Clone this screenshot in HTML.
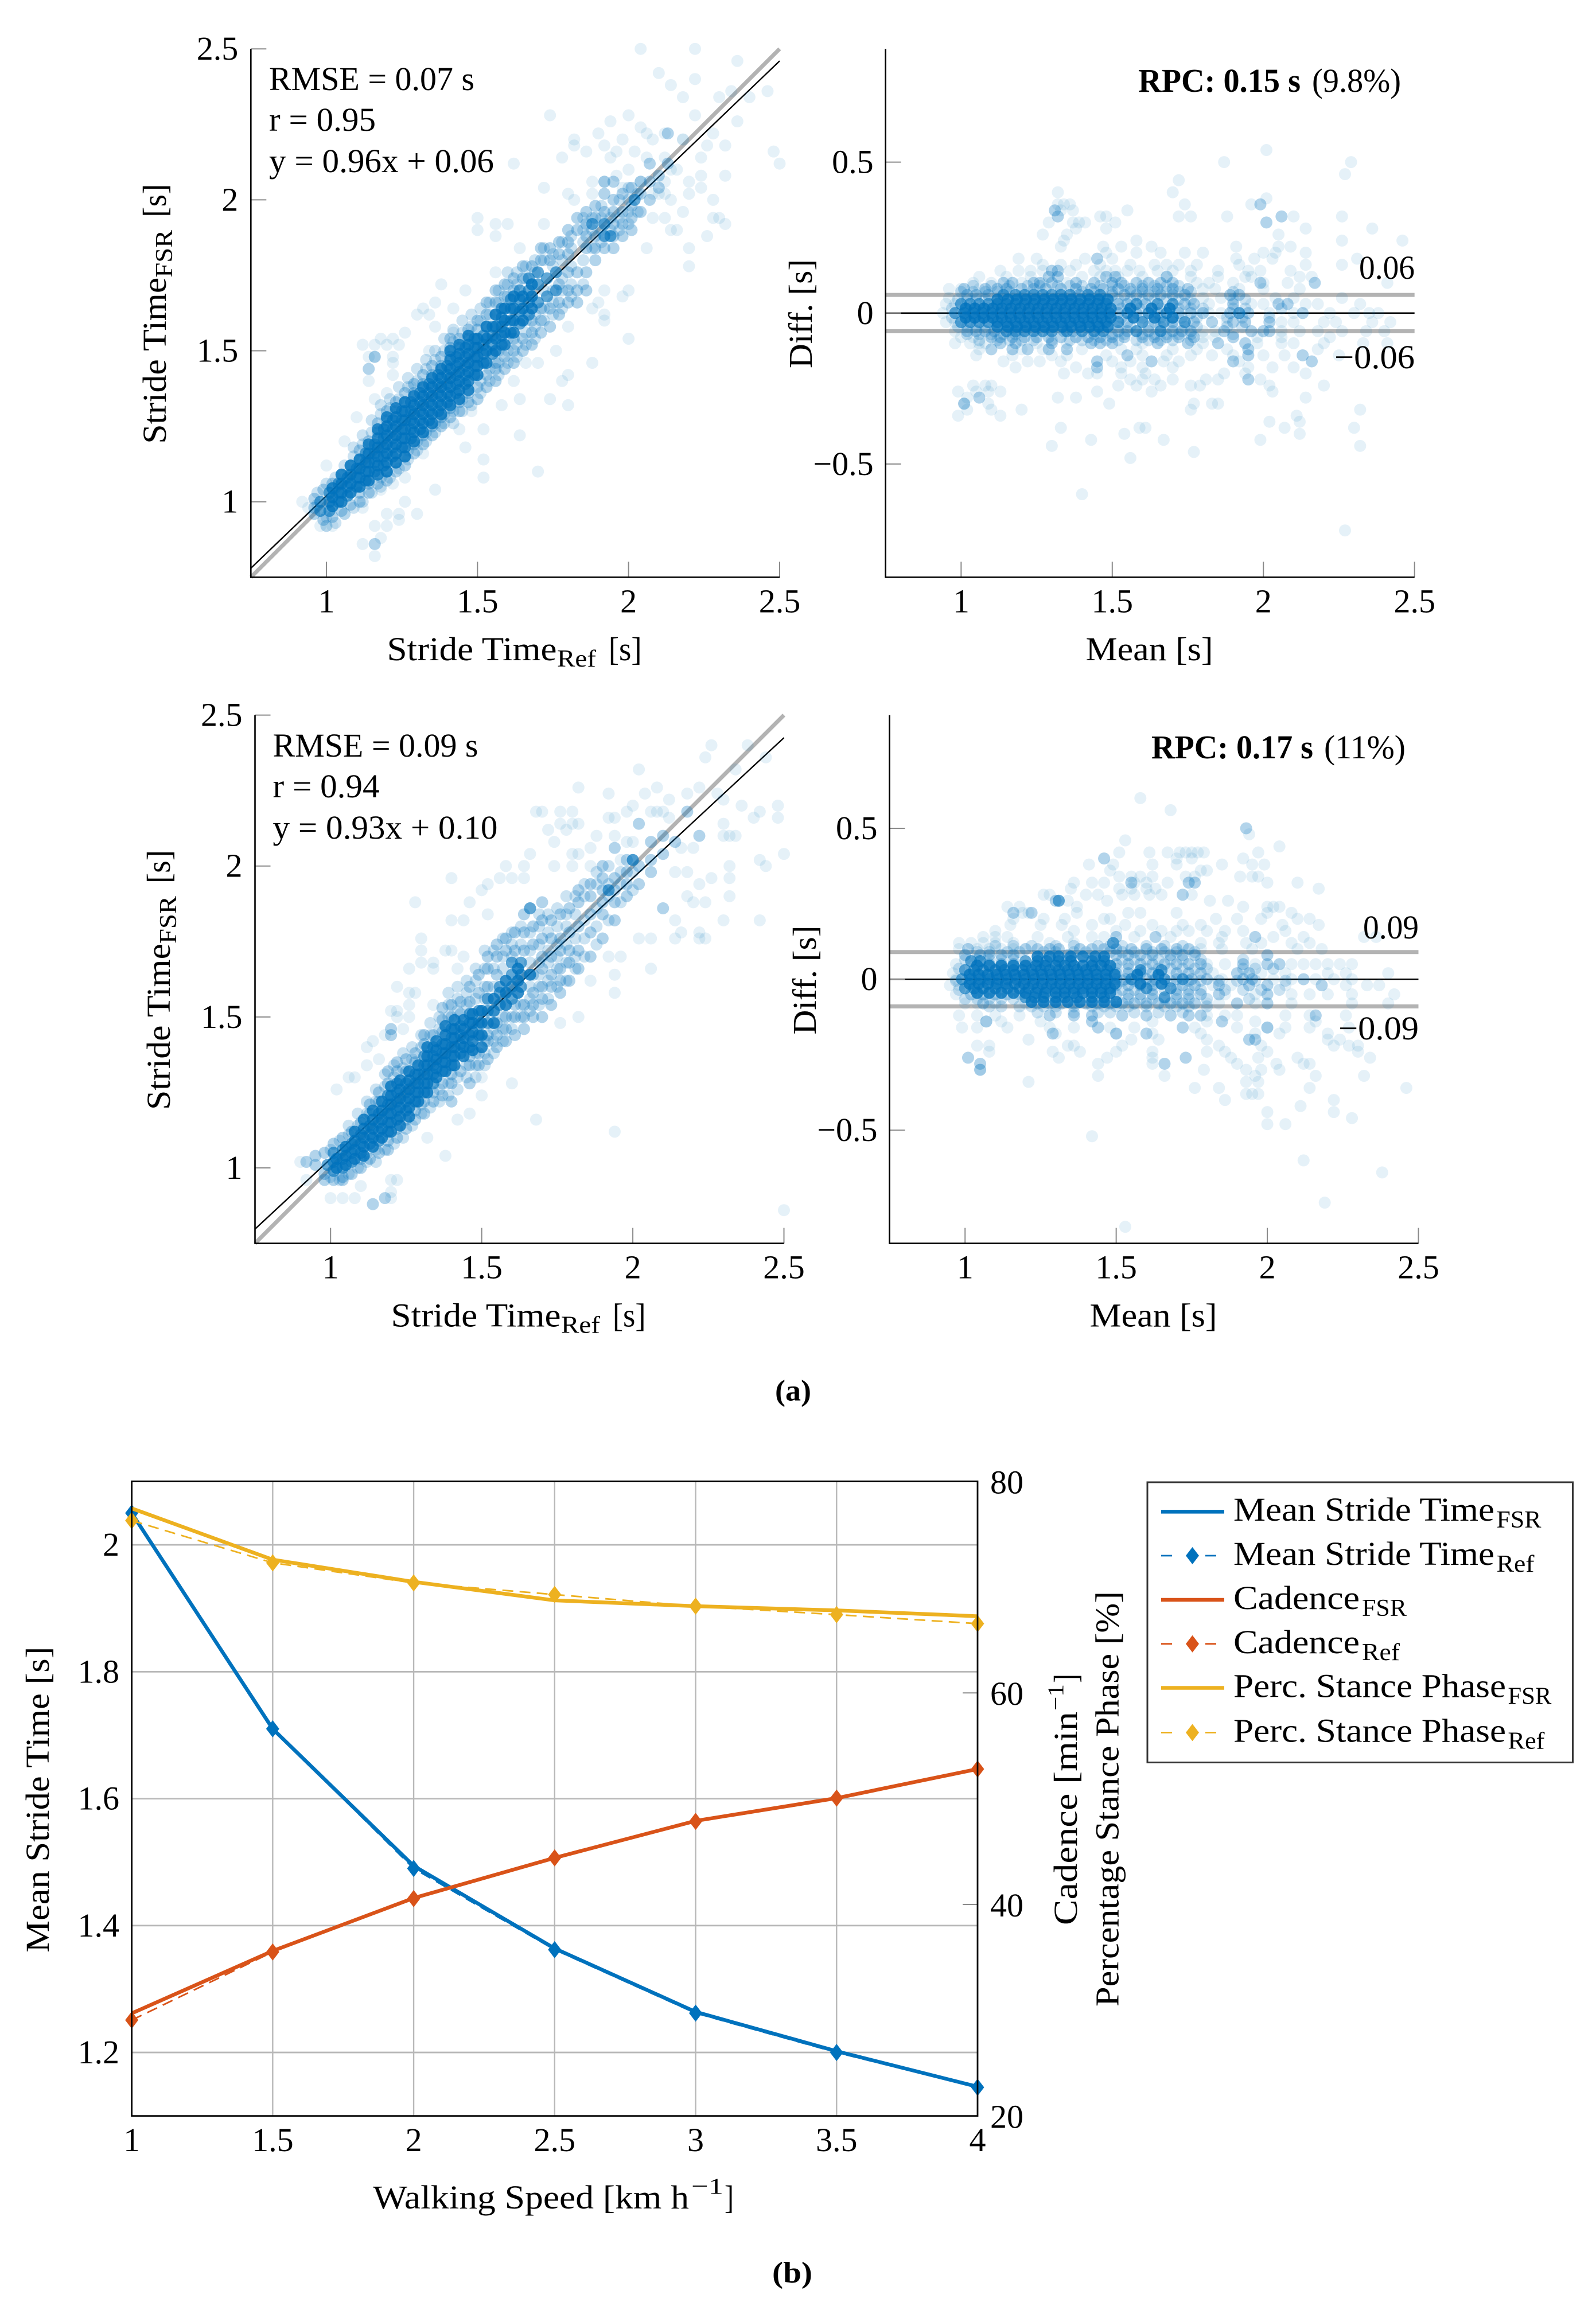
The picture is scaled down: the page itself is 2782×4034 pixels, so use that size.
<!DOCTYPE html>
<html lang="en">
<head>
<meta charset="utf-8">
<title>Stride time agreement and gait parameters</title>
<style>
html,body{margin:0;padding:0;background:#fff;}
svg{display:block;}
text{font-family:"Liberation Serif",serif;fill:#000;font-size:58px;}
.sub{font-size:42px;}
.sup{font-size:39px;}
.b{font-weight:bold;}
</style>
</head>
<body>
<svg id="figure" width="2782" height="4034" viewBox="0 0 2782 4034">
  <rect x="0" y="0" width="2782" height="4034" fill="#fff"/>

  <g id="panelA"></g>
  <g id="panelB"></g>
  <g id="panelC"></g>
  <g id="panelD"></g>
  <g id="panelE"></g>

  <!-- Panel A static text -->
  <g>
    <text x="469" y="157" textLength="358" lengthAdjust="spacingAndGlyphs">RMSE = 0.07 s</text>
    <text x="469" y="228" textLength="186" lengthAdjust="spacingAndGlyphs">r = 0.95</text>
    <text x="469" y="300" textLength="392" lengthAdjust="spacingAndGlyphs">y = 0.96x + 0.06</text>
  </g>
  <g>
    <text x="674.5" y="1151" textLength="296" lengthAdjust="spacingAndGlyphs">Stride Time</text>
    <text class="sub" x="971" y="1162" textLength="68" lengthAdjust="spacingAndGlyphs">Ref</text>
    <text x="1060.7" y="1151" textLength="58" lengthAdjust="spacingAndGlyphs">[s]</text>
  </g>
  <g transform="translate(289,773.7) rotate(-90)">
    <text x="0" y="0" textLength="290" lengthAdjust="spacingAndGlyphs">Stride Time</text>
    <text class="sub" x="290" y="11" textLength="83" lengthAdjust="spacingAndGlyphs">FSR</text>
    <text x="395" y="0" textLength="58" lengthAdjust="spacingAndGlyphs">[s]</text>
  </g>

  <!-- Panel B static text -->
  <g>
    <text class="b" x="1984" y="160" textLength="283" lengthAdjust="spacingAndGlyphs">RPC: 0.15 s</text>
    <text x="2287" y="160" textLength="155" lengthAdjust="spacingAndGlyphs">(9.8%)</text>
  </g>
  <text x="2369" y="486" textLength="97" lengthAdjust="spacingAndGlyphs">0.06</text>
  <text x="2326" y="642" textLength="140" lengthAdjust="spacingAndGlyphs">−0.06</text>
  <text x="1892.5" y="1151" textLength="222" lengthAdjust="spacingAndGlyphs">Mean [s]</text>
  <text transform="translate(1415,642) rotate(-90)" textLength="190" lengthAdjust="spacingAndGlyphs">Diff. [s]</text>

  <!-- Panel C static text -->
  <g>
    <text x="475.5" y="1319" textLength="358" lengthAdjust="spacingAndGlyphs">RMSE = 0.09 s</text>
    <text x="475.5" y="1390" textLength="186" lengthAdjust="spacingAndGlyphs">r = 0.94</text>
    <text x="475.5" y="1462" textLength="392" lengthAdjust="spacingAndGlyphs">y = 0.93x + 0.10</text>
  </g>
  <g>
    <text x="681.5" y="2312.5" textLength="296" lengthAdjust="spacingAndGlyphs">Stride Time</text>
    <text class="sub" x="978" y="2323.5" textLength="68" lengthAdjust="spacingAndGlyphs">Ref</text>
    <text x="1067.7" y="2312.5" textLength="58" lengthAdjust="spacingAndGlyphs">[s]</text>
  </g>
  <g transform="translate(296,1935) rotate(-90)">
    <text x="0" y="0" textLength="290" lengthAdjust="spacingAndGlyphs">Stride Time</text>
    <text class="sub" x="290" y="11" textLength="83" lengthAdjust="spacingAndGlyphs">FSR</text>
    <text x="395" y="0" textLength="58" lengthAdjust="spacingAndGlyphs">[s]</text>
  </g>

  <!-- Panel D static text -->
  <g>
    <text class="b" x="2007" y="1322" textLength="282" lengthAdjust="spacingAndGlyphs">RPC: 0.17 s</text>
    <text x="2308" y="1322" textLength="142" lengthAdjust="spacingAndGlyphs">(11%)</text>
  </g>
  <text x="2376" y="1636" textLength="97" lengthAdjust="spacingAndGlyphs">0.09</text>
  <text x="2333" y="1812" textLength="140" lengthAdjust="spacingAndGlyphs">−0.09</text>
  <text x="1899.5" y="2312.5" textLength="222" lengthAdjust="spacingAndGlyphs">Mean [s]</text>
  <text transform="translate(1422,1803.5) rotate(-90)" textLength="190" lengthAdjust="spacingAndGlyphs">Diff. [s]</text>

  <text class="b" x="1351" y="2441.5" textLength="63" lengthAdjust="spacingAndGlyphs" style="font-size:52px">(a)</text>

  <!-- Panel E static text -->
  <text transform="translate(85,3403.6) rotate(-90)" textLength="533" lengthAdjust="spacingAndGlyphs">Mean Stride Time [s]</text>
  <g>
    <text x="650" y="3850" textLength="551" lengthAdjust="spacingAndGlyphs">Walking Speed [km h</text>
    <text class="sup" x="1205" y="3824" textLength="56" lengthAdjust="spacingAndGlyphs">−1</text>
    <text x="1263" y="3850" textLength="16" lengthAdjust="spacingAndGlyphs">]</text>
  </g>
  <g transform="translate(1877,3356) rotate(-90)">
    <text x="0" y="0" textLength="372" lengthAdjust="spacingAndGlyphs">Cadence [min</text>
    <text class="sup" x="374" y="-24" textLength="46" lengthAdjust="spacingAndGlyphs">−1</text>
    <text x="422" y="0" textLength="16" lengthAdjust="spacingAndGlyphs">]</text>
  </g>
  <text transform="translate(1949.5,3498) rotate(-90)" textLength="724" lengthAdjust="spacingAndGlyphs">Percentage Stance Phase [%]</text>
  <text class="b" x="1346" y="3979" textLength="70" lengthAdjust="spacingAndGlyphs" style="font-size:52px">(b)</text>

  <!-- Legend -->
  <g>
    <rect x="2000" y="2584" width="741.5" height="488.5" fill="#fff" stroke="#333" stroke-width="3"/>
    <g>
      <line x1="2024" x2="2134" y1="2635.4" y2="2635.4" stroke="#0072BD" stroke-width="6.5"/>
      <text x="2150" y="2651" textLength="455" lengthAdjust="spacingAndGlyphs">Mean Stride Time</text>
      <text class="sub" x="2608.5" y="2663" textLength="78" lengthAdjust="spacingAndGlyphs">FSR</text>
    </g>
    <g>
      <line x1="2024" x2="2043" y1="2712" y2="2712" stroke="#0072BD" stroke-width="2.8"/>
      <line x1="2101" x2="2120" y1="2712" y2="2712" stroke="#0072BD" stroke-width="2.8"/>
      <polygon points="2078.5,2697 2090,2712 2078.5,2727 2067,2712" fill="#0072BD"/>
      <text x="2150" y="2728" textLength="455" lengthAdjust="spacingAndGlyphs">Mean Stride Time</text>
      <text class="sub" x="2608.5" y="2740" textLength="66" lengthAdjust="spacingAndGlyphs">Ref</text>
    </g>
    <g>
      <line x1="2024" x2="2134" y1="2789" y2="2789" stroke="#D95319" stroke-width="6.5"/>
      <text x="2150" y="2805" textLength="220" lengthAdjust="spacingAndGlyphs">Cadence</text>
      <text class="sub" x="2374" y="2817" textLength="78" lengthAdjust="spacingAndGlyphs">FSR</text>
    </g>
    <g>
      <line x1="2024" x2="2043" y1="2865.7" y2="2865.7" stroke="#D95319" stroke-width="2.8"/>
      <line x1="2101" x2="2120" y1="2865.7" y2="2865.7" stroke="#D95319" stroke-width="2.8"/>
      <polygon points="2078.5,2850.7 2090,2865.7 2078.5,2880.7 2067,2865.7" fill="#D95319"/>
      <text x="2150" y="2882" textLength="220" lengthAdjust="spacingAndGlyphs">Cadence</text>
      <text class="sub" x="2374" y="2894" textLength="66" lengthAdjust="spacingAndGlyphs">Ref</text>
    </g>
    <g>
      <line x1="2024" x2="2134" y1="2942.5" y2="2942.5" stroke="#EDB120" stroke-width="6.5"/>
      <text x="2150" y="2958.5" textLength="475" lengthAdjust="spacingAndGlyphs">Perc. Stance Phase</text>
      <text class="sub" x="2628.4" y="2970.5" textLength="76" lengthAdjust="spacingAndGlyphs">FSR</text>
    </g>
    <g>
      <line x1="2024" x2="2043" y1="3020.4" y2="3020.4" stroke="#EDB120" stroke-width="2.8"/>
      <line x1="2101" x2="2120" y1="3020.4" y2="3020.4" stroke="#EDB120" stroke-width="2.8"/>
      <polygon points="2078.5,3005.4 2090,3020.4 2078.5,3035.4 2067,3020.4" fill="#EDB120"/>
      <text x="2150" y="3036.5" textLength="475" lengthAdjust="spacingAndGlyphs">Perc. Stance Phase</text>
      <text class="sub" x="2628.4" y="3048.5" textLength="64" lengthAdjust="spacingAndGlyphs">Ref</text>
    </g>
  </g>
</svg>

<script>
/* ---------- Chart data ---------- */
const scatterTicks=[1,1.5,2,2.5];
const scatterTickLabels=['1','1.5','2','2.5'];
const diffTicks=[-0.5,0,0.5];
const diffTickLabels=['−0.5','0','0.5'];
const fitTop=[0.96,0.06];
const fitBottom=[0.93,0.10];
const identityEnds=[0.75,2.5];
const limitsTop=[0.06,-0.06];
const limitsBottom=[0.09,-0.09];

/* scatter points grouped as [x,[y,...]] by overlap density */
const aCore=[[1.02,[.985,1.015,1.045]],[1.05,[1,1.03,1.06,1.09]],[1.08,[1.03,1.06,1.09,1.12]],[1.11,[1.05,1.08,1.11,1.14]],[1.14,[1.07,1.1,1.13,1.16,1.19]],[1.17,[1.09,1.12,1.15,1.18,1.21,1.24]],[1.2,[1.1,1.13,1.16,1.19,1.22,1.25,1.28]],[1.23,[1.13,1.16,1.19,1.22,1.25,1.28,1.31]],[1.26,[1.15,1.18,1.21,1.24,1.27,1.3,1.33]],[1.29,[1.2,1.23,1.26,1.29,1.32,1.35]],[1.32,[1.23,1.26,1.29,1.32,1.35,1.38]],[1.35,[1.26,1.29,1.32,1.35,1.38,1.41]],[1.38,[1.29,1.32,1.35,1.38,1.41,1.44]],[1.41,[1.32,1.35,1.38,1.41,1.44,1.47,1.5]],[1.44,[1.34,1.37,1.4,1.43,1.46,1.49,1.52]],[1.47,[1.37,1.4,1.43,1.46,1.49,1.52,1.55]],[1.5,[1.42,1.45,1.48,1.51,1.54]],[1.53,[1.46,1.5,1.54,1.58]],[1.56,[1.5,1.54,1.58,1.62]],[1.59,[1.52,1.56,1.6,1.64]],[1.62,[1.56,1.6,1.64,1.68]],[1.65,[1.6,1.64,1.68]],[1.68,[1.64,1.68,1.72]]];
const aDark=[[.98,[.97,1]],[1.01,[.97,1,1.03]],[1.04,[1,1.03,1.06]],[1.07,[1.02,1.05,1.08]],[1.1,[1.05,1.08,1.11]],[1.13,[1.07,1.1,1.13,1.16]],[1.16,[1.1,1.13,1.16,1.19]],[1.19,[1.12,1.15,1.18,1.21,1.24]],[1.22,[1.15,1.18,1.21,1.24,1.27]],[1.25,[1.18,1.21,1.24,1.27,1.3]],[1.28,[1.21,1.24,1.27,1.3,1.33]],[1.31,[1.24,1.27,1.3,1.33,1.36]],[1.34,[1.27,1.3,1.33,1.36,1.39]],[1.37,[1.3,1.33,1.36,1.39,1.42]],[1.4,[1.33,1.36,1.39,1.42,1.45]],[1.43,[1.36,1.39,1.42,1.45,1.48]],[1.46,[1.39,1.42,1.45,1.48,1.51]],[1.49,[1.42,1.45,1.48,1.51,1.54]],[1.52,[1.46,1.49,1.52,1.55]],[1.55,[1.49,1.52,1.55,1.58]],[1.58,[1.52,1.55,1.58,1.61,1.64]],[1.61,[1.56,1.6,1.64,1.67]],[1.64,[1.59,1.63,1.67,1.7]],[1.67,[1.62,1.66,1.7,1.74]],[1.7,[1.66,1.72,1.76]],[1.73,[1.68,1.74]],[1.76,[1.7,1.76]],[1.88,[1.92]],[1.92,[1.92,1.88]],[1.94,[1.88]],[2.02,[2]]];
const aMid=[[.96,[.96,.98,1.01]],[.99,[.94,1.04]],[1.02,[.95,1.06]],[1.05,[.97,1.09]],[1.08,[.99,1.12]],[1.11,[1,1.03,1.14,1.17]],[1.14,[1.03,1.06,1.2]],[1.17,[1.06,1.23,1.26]],[1.2,[1.07,1.1,1.27,1.3]],[1.23,[1.1,1.13,1.3,1.33]],[1.26,[1.12,1.15,1.33,1.36]],[1.29,[1.16,1.19,1.36,1.39]],[1.32,[1.19,1.22,1.39,1.42]],[1.35,[1.22,1.25,1.42,1.45]],[1.38,[1.25,1.28,1.45,1.48]],[1.41,[1.28,1.31,1.48,1.51,1.54]],[1.44,[1.3,1.33,1.51,1.54]],[1.47,[1.33,1.36,1.54,1.57]],[1.5,[1.34,1.38,1.57,1.6]],[1.53,[1.38,1.42,1.58,1.62,1.66]],[1.56,[1.4,1.44,1.46,1.62,1.66,1.7]],[1.59,[1.44,1.48,1.68,1.72]],[1.62,[1.46,1.5,1.54,1.7,1.74]],[1.65,[1.5,1.54,1.74,1.78]],[1.68,[1.52,1.56,1.6,1.78]],[1.71,[1.56,1.6,1.64,1.8,1.84]],[1.74,[1.58,1.64,1.8,1.84]],[1.77,[1.62,1.66,1.72,1.82,1.86]],[1.8,[1.66,1.7,1.76,1.82,1.86,1.9]],[1.83,[1.66,1.7,1.76,1.9,1.94]],[1.86,[1.7,1.76,1.84,1.88,1.92,1.96]],[1.89,[1.8,1.84,1.88,1.94,1.98]],[1.92,[1.84,1.96,2.02,2.06]],[1.95,[1.84,1.88,1.92,1.96,2,2.06]],[1.98,[1.88,1.92,1.96,2.02]],[2.01,[1.9,1.94,1.98,2.04]],[2.04,[1.96,2.02,2.06]],[2.07,[2,2.06,2.12]],[2.1,[2.04,2.08]],[2.13,[2.12,2.22]],[1.16,[1.48]],[1.14,[1.44]],[1.16,[.86]]];
const aMidExtra=[[.97,[.99,1.03]],[1,[.92,.95,1.06]],[1.03,[.93,1.08]],[1.06,[.96,1.12]],[1.09,[.98,1.15,1.18]],[1.12,[1,1.19,1.22]],[1.15,[1.03,1.23,1.27]],[1.18,[1.05,1.08,1.29,1.32]],[1.21,[1.08,1.31,1.34]],[1.24,[1.11,1.34,1.38]],[1.27,[1.14,1.17,1.38,1.41]],[1.3,[1.17,1.2,1.4,1.44]],[1.33,[1.2,1.23,1.44,1.47]],[1.36,[1.23,1.26,1.47,1.5]],[1.39,[1.26,1.29,1.5,1.54]],[1.42,[1.26,1.3,1.53,1.57]],[1.45,[1.3,1.34,1.56,1.6]],[1.48,[1.32,1.58,1.62]],[1.51,[1.36,1.4,1.6,1.64]],[1.54,[1.4,1.44,1.62,1.66]],[1.57,[1.42,1.46,1.5,1.66,1.7]],[1.6,[1.46,1.5,1.54,1.68,1.72,1.76]],[1.63,[1.48,1.52,1.72,1.76]],[1.66,[1.52,1.56,1.6,1.74,1.78]],[1.69,[1.54,1.58,1.62,1.76,1.8]],[1.72,[1.6,1.64,1.7,1.8,1.84]],[1.75,[1.62,1.66,1.7,1.78,1.82]],[1.78,[1.64,1.7,1.74,1.8,1.86]],[1.81,[1.68,1.72,1.78,1.84,1.88]],[1.85,[1.72,1.8,1.86,1.9,1.94]],[1.88,[1.84,1.9,1.94]],[1.91,[1.86,1.9,1.94,1.98]],[1.94,[1.9,1.94]],[1.97,[1.9,1.94,2]],[2,[1.92,1.96,2,2.04]],[2.03,[1.96,2.02]]];
const aLight=[[2.04,[2.5,2.24,2.06]],[2.22,[2.5,2.4,2.28]],[2.36,[2.46,2.26]],[2.1,[2.42,2.02]],[2.14,[2.38,2.1,2,1.9]],[2.18,[2.34,2.2,1.96]],[2.3,[2.34,1.94]],[2.34,[2.36]],[2.4,[2.34]],[2.46,[2.36]],[1.74,[2.28,1.34]],[1.94,[2.26,2.14]],[2,[2.28,2.1,1.7,1.54]],[1.9,[2.22,1.66]],[2.12,[2.22,2.14,2.06,2.02,1.94]],[2.06,[2.22,2.14,1.84]],[1.82,[2.2,2.18,2]],[1.98,[2.2,2.04,1.68]],[2.08,[2.2,2.02,1.94]],[2.18,[2.2]],[2.28,[2.22,2,1.94]],[1.86,[2.16]],[1.92,[2.18,2.06,1.7,1.62,1.6]],[1.96,[2.16,2.08]],[2.02,[2.16]],[2.26,[2.18,1.88]],[2.32,[2.18,2.08,1.92]],[2.48,[2.16]],[2.5,[2.12]],[1.62,[2.12,1.4]],[1.78,[2.14,1.4]],[2.24,[2.14,2.08,2.04]],[2.16,[2.1,1.9]],[1.72,[2.04,1.92]],[1.88,[2.06,2.02,1.64,1.46]],[2.2,[2.06,2.02,1.84,1.78]],[1.8,[2.02,1.58,1.42,1.32]],[1.5,[1.94,1.9]],[1.56,[1.92,1.88,1.76]],[1.6,[1.92]],[1.64,[1.84,1.34,1.22]],[1.38,[1.72,1.26]],[1.32,[1.64,1.16]],[1.3,[1.62,.96]],[1.34,[1.62,1.5]],[1.36,[1.66,1.58,1.04]],[1.42,[1.64,1.56]],[1.46,[1.7,1.18]],[1.58,[1.32]],[1.52,[1.24,1.14,1.08]],[1.7,[1.1,1.46]],[1.66,[1.46]],[1.76,[1.5]],[1.12,[1.52,.98,.86]],[1.16,[1.52,1.48,1.34,.92,.82]],[1.18,[1.54,1.04,.88]],[1.2,[1.52,1.36,.96,.92]],[1.22,[1.54,1.48,1.46,1.42,1.06]],[1.24,[1.52,.96,.94]],[1.26,[1.56,1,1.08]],[1.14,[1.48,1.4]],[1.28,[1.38]],[1.44,[1.24]],[1.48,[1.3]],[1,[1.12,.92]],[.92,[1]],[.94,[.98]],[.98,[.92]],[1.02,[.92]],[1.06,[.96,1.2]],[1.1,[1.28]]];

/* difference points grouped as [y,[x,...]] by overlap density */
const bCore=[[.045,[1.12,1.155,1.185,1.215,1.245,1.275,1.305,1.335,1.365,1.395,1.425,1.455,1.485]],[.015,[1.015,1.045,1.075,1.105,1.135,1.165,1.195,1.225,1.255,1.285,1.315,1.345,1.375,1.405,1.435,1.465,1.495,1.56,1.63,1.69]],[-.015,[1.015,1.045,1.075,1.105,1.135,1.165,1.195,1.225,1.255,1.285,1.315,1.345,1.375,1.405,1.435,1.465,1.495,1.57,1.64,1.7]],[-.045,[1.12,1.155,1.185,1.215,1.245,1.275,1.305,1.335,1.365,1.395,1.425,1.455,1.485]]];
const bDark=[[.06,[1.14,1.18,1.21,1.24,1.27,1.3,1.33,1.36,1.42,1.46]],[.03,[1,1.03,1.06,1.09,1.12,1.15,1.18,1.21,1.24,1.27,1.3,1.33,1.36,1.39,1.42,1.45,1.48,1.58,1.65,1.7]],[0,[.98,1.01,1.04,1.07,1.1,1.13,1.16,1.19,1.22,1.25,1.28,1.31,1.34,1.37,1.4,1.43,1.46,1.49,1.55,1.62,1.68,1.92]],[-.03,[1,1.03,1.06,1.09,1.12,1.15,1.18,1.21,1.24,1.27,1.3,1.33,1.36,1.39,1.42,1.45,1.48,1.52,1.6,1.67,1.74]],[-.06,[1.15,1.18,1.21,1.24,1.27,1.3,1.35,1.4,1.44,1.47,1.58,1.66]]];
const bMid=[[.12,[1.29,1.32,1.48,1.51,1.68]],[.1,[1.14,1.24,1.26,1.3,1.38,1.44,1.5,1.53,1.58,1.62,1.66,1.7]],[.08,[1.01,1.08,1.12,1.15,1.2,1.24,1.28,1.33,1.38,1.43,1.47,1.52,1.56,1.6,1.65,1.7,1.75]],[.06,[1.02,1.05,1.09,1.39,1.5,1.54,1.58,1.62,1.66,1.7,1.74,1.89,1.92]],[.03,[1.52,1.55,1.61,1.74,1.77,1.9,2.05,2.08]],[0,[1.52,1.58,1.65,1.72,1.76,1.8,1.89,1.95,2.13]],[-.03,[1.55,1.64,1.7,1.77,1.83,1.9,1.94,2.02]],[-.06,[1.02,1.05,1.08,1.11,1.34,1.37,1.52,1.55,1.62,1.7,1.73,1.76,1.87,1.96,2,2.02]],[-.08,[1.1,1.13,1.17,1.21,1.25,1.29,1.33,1.38,1.42,1.46,1.5,1.54,1.6,1.64,1.68,1.72,1.77,1.9]],[-.1,[1.13,1.18,1.3,1.43,1.46,1.5,1.65,1.75,1.85,1.94]],[-.12,[1.1,1.17,1.22,1.29,1.35,1.95]],[-.14,[1.55,1.95,2.13]],[-.16,[1.45,1.63,1.9,2.16]],[-.18,[1.45]],[-.22,[1.95]],[-.3,[1.01]],[-.28,[1.06]],[.14,[1.3,1.32]],[.32,[2.06]],[.36,[1.99]],[.1,[1.17,1.99,2.17]],[.3,[2.01]],[.34,[1.31]],[.32,[1.32]],[.18,[1.45]]];
const bMidExtra=[[.09,[1.04,1.1,1.16,1.22,1.26,1.32,1.36,1.4,1.46,1.5,1.54,1.6,1.64,1.68,1.72]],[.07,[1,1.04,1.08,1.12,1.16,1.4,1.44,1.5,1.56,1.6,1.64,1.68,1.72,1.76,1.9]],[.045,[.99,1.02,1.05,1.08,1.52,1.56,1.6,1.64,1.68,1.72,1.76,1.9,1.94]],[.015,[.97,1.53,1.59,1.66,1.72,1.76,1.8,1.9,1.94,2.06]],[-.015,[.97,1.53,1.6,1.66,1.73,1.78,1.88,1.93,2.02]],[-.045,[.99,1.02,1.05,1.08,1.52,1.56,1.62,1.66,1.7,1.74,1.78,1.88,1.93]],[-.07,[1.02,1.06,1.1,1.14,1.18,1.44,1.5,1.54,1.6,1.64,1.68,1.72,1.76,1.9]],[-.09,[1.06,1.12,1.16,1.2,1.24,1.3,1.36,1.4,1.44,1.48,1.52,1.58,1.62,1.66,1.7,1.76]]];
const bLight=[[.54,[2.01]],[.5,[1.87,2.29]],[.46,[2.27]],[.44,[1.72]],[.4,[1.7,1.32]],[.38,[2.01]],[.36,[1.74,1.96,1.32,1.34,1.36]],[.34,[1.33,1.37,1.55]],[.32,[1.46,1.48,1.72,1.76,1.88,2.1,2.26]],[.3,[1.29,1.37,1.39,1.41,1.51]],[.28,[1.48,1.38,2.14,2.36]],[.26,[1.35,1.27,2.05]],[.24,[1.34,1.58,2.26,2.46]],[.22,[1.33,1.53,1.47,1.63,1.91,2.05,2.09]],[.2,[1.48,1.58,1.66,1.74,1.8,2,2.04,2.14]],[.18,[2.31,1.91,1.97,2.03,1.19,1.25,1.41,1.5]],[.16,[1.38,1.56,1.64,1.68,1.72,1.78,1.92,2.14,2.26,1.27,1.33,1.46]],[.14,[1.13,1.19,1.23,1.27,1.36,1.44,1.48,1.51,1.55,1.59,1.65,1.7,1.76,1.85,1.95,1.99,2.09]],[.12,[1.06,1.15,1.23,1.4,1.46,1.52,1.6,1.68,1.76,1.85,1.94,1.96,2.12,2.16]],[.1,[1.04,1.1,1.2,1.27,1.35,1.78,1.82,1.9,2,2.08,2.41]],[.08,[.96,1,1.06,1.8,1.84,1.92,2,2.12]],[.05,[.96,1.8,1.86,2.04,2.1,2.26]],[.03,[.95,.98,1.82,1.96,2,2.14,2.18,2.32]],[0,[.94,1.82,1.86,2.02,2.1,2.22,2.3,2.35,2.38]],[-.03,[.95,.98,1.88,2.06,2.1,2.2,2.24,2.36,2.42]],[-.06,[.98,1.8,1.84,2.06,2.12,2.18,2.26,2.34,2.4]],[-.08,[1,1.04,1.8,1.84,1.98,2.06,2.22]],[-.1,[.98,1.03,1.06,1.08,1.25,1.35,1.6,1.8,1.98,2.06,2.1,2.2,2.33,2.41]],[-.12,[1.06,1.2,1.27,1.4,1.53,1.58,1.7,1.78,1.88,2.18]],[-.14,[1.05,1.17,1.3,1.35,1.48,1.6,1.68,1.76,1.83,1.9,2,2.07,2.25]],[-.16,[1.14,1.22,1.26,1.33,1.5,1.56,1.67,1.72,1.92]],[-.18,[1.18,1.38,1.53,1.6,1.7,1.95,2.03,2.1]],[-.2,[1.34,1.42,1.45,1.53,1.61,1.87,1.94,2.14]],[-.22,[1.56,1.6,1.64,1.7,1.81,1.85,1.99]],[-.24,[1.04,1.08,1.1,1.52,1.58,1.66,1.76,1.79,2.02,2.2]],[-.26,[.99,1.05,1.09,1.13,1.45,1.63,2.03]],[-.28,[1.02,1.32,1.38,2.14]],[-.3,[1.01,1.09,1.49,1.77,1.83,1.85]],[-.32,[1.02,1.1,1.2,1.76,2.32]],[-.34,[.99,1.13,2.11]],[-.36,[2.02,2.12]],[-.38,[1.33,1.59,1.61,2.07,2.3]],[-.4,[1.54,2.12]],[-.42,[1.43,1.67,1.99]],[-.44,[1.3,2.32]],[-.46,[1.77]],[-.48,[1.56]],[-.6,[1.4]],[-.72,[2.27]]];

const cCore=[[1.02,[1,1.03]],[1.05,[1.01,1.04,1.07]],[1.08,[1.03,1.06,1.09,1.12]],[1.11,[1.04,1.07,1.1,1.13,1.16]],[1.14,[1.07,1.1,1.13,1.16,1.19]],[1.17,[1.1,1.13,1.16,1.19,1.22]],[1.2,[1.12,1.15,1.18,1.21,1.24,1.27]],[1.23,[1.14,1.17,1.2,1.23,1.26,1.29]],[1.26,[1.17,1.2,1.23,1.26,1.29,1.32]],[1.29,[1.22,1.25,1.28,1.31,1.34]],[1.32,[1.25,1.28,1.31,1.34,1.37,1.4]],[1.35,[1.3,1.33,1.36,1.39,1.42]],[1.38,[1.32,1.35,1.38,1.41,1.44,1.47]],[1.41,[1.34,1.37,1.4,1.43,1.46,1.49]],[1.44,[1.37,1.4,1.43,1.46,1.49]],[1.47,[1.39,1.42,1.45,1.48,1.51]],[1.5,[1.4,1.44,1.48,1.52]],[1.54,[1.48,1.52,1.56]],[1.58,[1.54,1.58,1.62]],[1.62,[1.58,1.62,1.66]],[1.66,[1.64]]];
const cDark=[[.99,[1.01]],[1.01,[.99,1.02,1.05]],[1.04,[1,1.03,1.06]],[1.07,[1.02,1.05,1.08]],[1.1,[1.05,1.08,1.11]],[1.13,[1.08,1.11,1.14]],[1.16,[1.09,1.12,1.15,1.18]],[1.19,[1.12,1.15,1.18,1.21,1.24]],[1.22,[1.16,1.19,1.22,1.25,1.28]],[1.25,[1.19,1.22,1.25,1.28]],[1.28,[1.22,1.25,1.28,1.31]],[1.31,[1.25,1.28,1.31,1.34,1.37]],[1.34,[1.28,1.31,1.34,1.37,1.4]],[1.37,[1.32,1.35,1.38,1.41]],[1.4,[1.34,1.37,1.4,1.43,1.46]],[1.43,[1.38,1.41,1.44,1.47]],[1.46,[1.4,1.44,1.48,1.51]],[1.49,[1.44,1.48,1.52]],[1.52,[1.48,1.52,1.56]],[1.56,[1.54,1.58,1.6]],[1.6,[1.56,1.6,1.64,1.68]],[1.63,[1.6,1.64,1.68]],[1.66,[1.86]],[1.92,[1.92]],[2,[2.02]]];
const cMid=[[.92,[1.02]],[.95,[1.01,1.04]],[.98,[.96,.98,1.05]],[1.01,[.96,1.08]],[1.04,[.96,.97,1.1]],[1.07,[.98,1.12]],[1.1,[1,1.03,1.15]],[1.13,[1.03,1.18,1.21]],[1.16,[1.05,1.22,1.25]],[1.19,[1.06,1.09,1.28,1.32]],[1.22,[1.1,1.13,1.32,1.35]],[1.25,[1.13,1.16,1.32,1.36]],[1.28,[1.16,1.19,1.35,1.38]],[1.31,[1.18,1.22,1.41,1.44]],[1.34,[1.22,1.25,1.44]],[1.37,[1.24,1.28,1.45,1.49,1.53]],[1.4,[1.22,1.28,1.31,1.5,1.54]],[1.43,[1.32,1.51,1.55]],[1.46,[1.28,1.34,1.37,1.55,1.6]],[1.49,[1.34,1.38,1.58,1.64]],[1.52,[1.36,1.42,1.44,1.6,1.66,1.7]],[1.55,[1.4,1.44,1.48,1.64,1.7,1.74]],[1.58,[1.42,1.46,1.5,1.72,1.76]],[1.61,[1.44,1.5,1.54,1.72,1.78]],[1.64,[1.46,1.5,1.54,1.72,1.78,1.84]],[1.67,[1.5,1.54,1.58,1.64,1.74,1.8]],[1.7,[1.5,1.56,1.6,1.66,1.7,1.76,1.82,1.88]],[1.73,[1.54,1.6,1.64,1.7,1.76,1.82]],[1.76,[1.58,1.62,1.66,1.72,1.76,1.84]],[1.79,[1.62,1.68,1.72,1.78,1.86]],[1.82,[1.66,1.72,1.8,1.88,1.92]],[1.86,[1.7,1.78,1.84,1.9,1.94]],[1.9,[1.76,1.84,1.88,1.92,1.96,2]],[1.94,[1.82,1.88,1.92,1.96,2.06]],[1.98,[1.9,1.94,1.98,2.02]],[2.02,[1.94,2,2.14]],[2.06,[1.98,2.02,2.08]],[2.1,[1.86,2.04,2.1]],[2.14,[2.08]],[2.18,[2.18]],[2.22,[2.1]],[1.2,[1.44,1.46]],[1.14,[.88]],[1.18,[.9]]];
const cMidExtra=[[1,[.97,1.06]],[1.03,[.96,1.09]],[1.06,[.98,1.11,1.14]],[1.09,[1,1.14,1.18]],[1.12,[1.02,1.05,1.18,1.22]],[1.15,[1.02,1.06,1.22,1.26]],[1.18,[1.06,1.27,1.31]],[1.21,[1.08,1.3,1.34]],[1.24,[1.1,1.33,1.38]],[1.27,[1.14,1.36,1.4]],[1.3,[1.18,1.21,1.4,1.44]],[1.33,[1.2,1.44,1.48]],[1.36,[1.22,1.26,1.46,1.5]],[1.39,[1.24,1.28,1.5,1.54,1.58]],[1.42,[1.26,1.3,1.52,1.56,1.6]],[1.45,[1.3,1.34,1.54,1.58,1.62]],[1.48,[1.3,1.34,1.38,1.56,1.62,1.66]],[1.51,[1.34,1.38,1.42,1.56,1.6,1.66,1.72]],[1.54,[1.38,1.42,1.46,1.6,1.66,1.72]],[1.57,[1.42,1.46,1.5,1.66,1.7,1.76]],[1.6,[1.46,1.5,1.7,1.74,1.78]],[1.63,[1.5,1.54,1.74,1.8]],[1.66,[1.52,1.56,1.6,1.68,1.72,1.78]],[1.69,[1.54,1.6,1.64,1.68,1.74,1.8,1.84]],[1.72,[1.56,1.62,1.68,1.72,1.78,1.84]],[1.75,[1.6,1.66,1.7,1.74,1.8,1.86]],[1.78,[1.62,1.68,1.74,1.8,1.84,1.9]],[1.81,[1.66,1.7,1.76,1.84,1.9]],[1.84,[1.7,1.76,1.82,1.9,1.94]],[1.88,[1.74,1.8,1.86,1.94,1.98]],[1.92,[1.82,1.9,1.94,2]],[1.96,[1.88,1.94,1.98]],[2,[1.92,1.98,2.02]]];
const cLight=[[2.26,[2.4,1.96]],[2.38,[2.4]],[2.24,[2.36,1.88,1.76]],[2.44,[2.36,2]],[2.02,[2.32,1.76]],[2.34,[2.32]],[1.82,[2.26,2.14,2.04,1.5]],[1.92,[2.24,2.16,1.7]],[2.04,[2.24]],[2.08,[2.26,2.18]],[2.28,[2.24]],[2.12,[2.22,2.16]],[2.18,[2.24,1.98,1.9]],[2.22,[2.26,1.94,1.78]],[2.3,[2.22,2.14,2.1,1.82]],[2,[2.2,2.08]],[2.36,[2.2]],[2.48,[2.2,2.16]],[1.68,[2.18]],[1.7,[2.18]],[1.76,[2.18,2.14]],[1.8,[2.18,2.14,2.04,2]],[1.98,[2.18,2.08]],[2.06,[2.18,1.76,1.66]],[2.1,[2.18]],[2.42,[2.18,2.02,1.82]],[2.4,[2.16]],[1.94,[2.16,2.1,1.64,1.58]],[1.72,[2.12]],[1.78,[2.12]],[1.88,[2.1]],[2.32,[2.1,2,1.96,1.9]],[2.34,[2.1]],[1.74,[2.08,2]],[1.86,[2.06,2,1.62]],[2.16,[2.06,1.78]],[2.2,[2.06,1.88]],[1.66,[2.04]],[2.5,[2.04,.86]],[1.58,[2]],[1.64,[2,1.96]],[2.14,[1.98,1.82,1.76]],[1.4,[1.96,1.82,1.72]],[1.5,[1.92,1.24,1.3]],[1.52,[1.94,1.84]],[1.56,[1.96]],[1.6,[1.96,1.28]],[1.28,[1.88]],[1.46,[1.88,1.18]],[1.44,[1.82,1.7]],[1.3,[1.76,1.72,1.68]],[1.38,[1.72,1.04]],[1.34,[1.68,1.66,1.54]],[1.26,[1.66,1.58,1.54,1.5]],[1.42,[1.66,1.16]],[1.22,[1.6,1.52,1.5]],[1.28,[1.58]],[1.2,[1.52,.96,.92,.9]],[1.24,[1.46]],[1.14,[1.42]],[1.18,[1.44]],[1.12,[1.4,1.34]],[1.16,[1.36]],[1.08,[1.3,.9]],[1.06,[1.3]],[1.02,[1.26]],[1.96,[1.7,2.02]],[2.22,[1.76]],[1.76,[1.48]],[1.94,[1.12]],[1.68,[1.16]],[1.32,[1.1]],[1.22,[.96]],[1.1,[.94]],[1.04,[.9]],[1,[.9]],[.92,[.96]],[.9,[1.02]]];

const dCore=[[.075,[1.24,1.28,1.31,1.35,1.39,1.43,1.46]],[.045,[1.04,1.08,1.12,1.16,1.2,1.235,1.265,1.3,1.33,1.36,1.39,1.42,1.45,1.48]],[.015,[1.015,1.045,1.075,1.105,1.135,1.165,1.195,1.225,1.255,1.285,1.315,1.345,1.375,1.405,1.435,1.465,1.495,1.57,1.64]],[-.015,[1.015,1.045,1.075,1.105,1.135,1.165,1.195,1.225,1.255,1.285,1.315,1.345,1.375,1.405,1.435,1.465,1.495,1.58,1.65]],[-.045,[1.04,1.08,1.12,1.16,1.2,1.235,1.265,1.3,1.33,1.36,1.39,1.42,1.45,1.48]],[-.075,[1.22,1.26,1.3,1.34,1.38,1.42,1.46,1.5]]];
const dDark=[[.06,[1.02,1.05,1.2,1.24,1.27,1.31,1.35,1.42,1.46]],[.03,[1,1.03,1.06,1.1,1.13,1.16,1.19,1.22,1.25,1.28,1.31,1.34,1.37,1.4,1.43,1.47,1.58,1.65]],[0,[.99,1.02,1.05,1.08,1.11,1.14,1.17,1.2,1.23,1.26,1.29,1.32,1.35,1.38,1.41,1.44,1.47,1.55,1.66,1.72]],[-.03,[1,1.03,1.06,1.1,1.14,1.18,1.21,1.24,1.27,1.3,1.33,1.36,1.39,1.42,1.45,1.48,1.6,1.68]],[-.06,[1.2,1.23,1.26,1.3,1.33,1.37,1.42,1.46,1.66]],[.26,[1.31]],[.12,[1.49]]];
const dMid=[[.1,[1.01,1.2,1.24,1.28,1.31,1.38,1.42,1.46,1.5,1.55,1.6,1.65,1.7,1.74]],[.08,[1,1.05,1.08,1.12,1.16,1.34,1.5,1.54,1.58,1.62,1.68,1.72,1.76,2]],[.05,[1.08,1.12,1.16,1.5,1.54,1.58,1.62,1.66,1.7,1.74,1.78,1.92,2,2.04]],[.02,[1.5,1.54,1.58,1.62,1.7,1.74,1.78,1.9,1.94]],[0,[1.5,1.53,1.6,1.63,1.7,1.75,1.8,1.92,1.95,2.12]],[-.02,[1.5,1.54,1.58,1.62,1.72,1.76,1.84,1.94,2,2.18]],[-.05,[1.02,1.06,1.1,1.14,1.18,1.5,1.54,1.58,1.62,1.7,1.74,1.78,1.84,2]],[-.08,[1.06,1.24,1.28,1.32,1.36,1.4,1.44,1.48,1.52,1.56,1.6,1.64,1.68,1.72,1.76,1.9,2]],[-.12,[1.28,1.36,1.42,1.52,1.6,1.68,1.74,1.78,2.16]],[-.14,[1.07,1.42,1.85]],[-.16,[1.44,1.72,2]],[-.18,[1.29,1.5,1.6]],[-.2,[1.96,1.94]],[-.26,[1.01,1.73]],[-.28,[1.66,1.05]],[-.3,[1.05]],[.22,[1.22,1.16]],[.28,[1.72]],[.4,[1.46]],[.5,[1.93]],[.26,[1.3]],[.32,[1.74,1.76,1.55]],[.14,[1.5,1.63,1.96]]];
const dMidExtra=[[.11,[1.1,1.16,1.22,1.3,1.36,1.44,1.48,1.52,1.6,1.66,1.72]],[.09,[1.04,1.08,1.14,1.18,1.26,1.3,1.36,1.4,1.48,1.52,1.56,1.62,1.66,1.7,1.76]],[.065,[1,1.04,1.08,1.12,1.16,1.52,1.56,1.6,1.64,1.68,1.72,1.78,1.92]],[.035,[.98,1.5,1.54,1.6,1.64,1.68,1.72,1.76,1.8,1.92,1.96,2.02]],[-.005,[.97,1.52,1.56,1.62,1.68,1.74,1.78,1.84,1.9,1.96,2.06]],[-.035,[.98,1.52,1.56,1.62,1.66,1.7,1.74,1.78,1.86,1.92,1.98,2.04]],[-.065,[1,1.04,1.08,1.12,1.16,1.54,1.58,1.62,1.66,1.7,1.74,1.8,1.94]],[-.09,[1.08,1.12,1.18,1.22,1.26,1.3,1.36,1.42,1.46,1.5,1.54,1.6,1.66,1.7,1.74,1.8]],[-.11,[1.24,1.3,1.36,1.44,1.48,1.56,1.64,1.72]]];
const dLight=[[.6,[1.58]],[.56,[1.68]],[.48,[1.94]],[.46,[1.53]],[.44,[2.04]],[.42,[1.51,1.61,1.67,1.71,1.73,1.75,1.77,1.79,1.97]],[.4,[1.7,1.75,1.92]],[.38,[1.41,1.49,1.62,1.7,1.85,1.95,1.99]],[.36,[1.48,1.78,1.8]],[.34,[1.51,1.55,1.58,1.62,1.73,1.76,1.91,1.95,1.97]],[.32,[1.36,1.42,1.46,1.56,1.6,1.67,2,2.1]],[.3,[1.35,1.51,1.55,1.6,1.63,2.17]],[.28,[1.26,1.28,1.4,1.44,1.52,1.56,1.61,1.65,1.75]],[.26,[1.34,1.47,1.81,1.87]],[.24,[1.14,1.18,1.37,1.92,2,2.02,2.04]],[.22,[1.19,1.21,1.37,1.54,1.58,1.7,2,2.08]],[.2,[1.16,1.26,1.33,1.46,1.48,1.83,1.9,1.98,2.1,2.14]],[.18,[1.15,1.25,1.32,1.42,1.53,1.62,1.72,1.78,2.05,2.17]],[.16,[1.1,1.36,1.5,1.58,1.65,1.7,1.74,1.8,1.86,1.92,2.06]],[.14,[1.06,1.1,1.14,1.24,1.34,1.42,1.46,1.56,1.68,1.85,2.02,2.12,2.32,2.36]],[.12,[.98,1.02,1.06,1.1,1.16,1.28,1.36,1.78,1.84,1.93,1.98,2.08,2.14]],[.1,[.98,1.04,1.08,1.12,1.16,1.78,1.85,1.95,2.1,2.18]],[.05,[.97,1.8,1.86,1.96,2.08,2.12,2.16,2.2,2.24,2.28]],[.02,[.96,1.82,1.98,2.06,2.2,2.26,2.4]],[0,[.97,1.85,2.02,2.08,2.16,2.22,2.28]],[-.02,[.95,.98,1.82,1.88,2.06,2.26,2.33,2.37]],[-.05,[.97,1.86,1.96,2.08,2.14,2.2,2.28,2.42]],[-.08,[1,1.04,1.1,1.2,1.8,1.84,1.96,2.08,2.28,2.4]],[-.12,[.98,1.04,1.1,1.18,1.8,1.86,1.9,2.06,2.14,2.26]],[-.14,[1.07,1.12,1.25,1.62,1.8,1.96,2.16]],[-.16,[.99,1.04,1.14,1.28,1.36,1.48,1.56,1.76,1.9,2,2.06,2.14,2.27]],[-.18,[1.3,1.5,1.62,1.78,1.96,2.04,2.2]],[-.2,[1.21,1.55,1.64,1.8,2.2,2.24]],[-.22,[1.04,1.08,1.34,1.36,1.52,1.84,1.98,2.22,2.27,2.3]],[-.24,[1.08,1.29,1.38,1.5,1.62,1.8,1.86,2,2.3]],[-.26,[1.31,1.47,1.62,1.88,1.97,2.1,2.34]],[-.28,[1.44,1.62,1.9,2.03,2.12,2.14]],[-.3,[1.05,1.79,1.93,1.98,2.04]],[-.32,[1.44,1.66,1.96,2.16,2.32]],[-.34,[1.21,1.93,1.97]],[-.36,[1.76,1.84,2.14,2.46]],[-.38,[1.93,1.95,1.97]],[-.4,[1.86,2.22]],[-.42,[2.11]],[-.44,[2,2.22]],[-.46,[2.28]],[-.48,[2,2.06]],[-.52,[1.42]],[-.6,[2.12]],[-.64,[2.38]],[-.74,[2.19]],[-.82,[1.53]]];

/* line chart */
const speeds=[1,1.5,2,2.5,3,3.5,4];
const speedTickLabels=['1','1.5','2','2.5','3','3.5','4'];
const strideTicks=[1.2,1.4,1.6,1.8,2];
const strideTickLabels=['1.2','1.4','1.6','1.8','2'];
const rightTicks=[20,40,60,80];
const rightTickLabels=['20','40','60','80'];
const meanStrideFsr=[2.05,1.71,1.494,1.364,1.264,1.202,1.146];
const meanStrideRef=[2.05,1.71,1.49,1.362,1.262,1.2,1.145];
const cadenceFsr=[29.7,35.6,40.6,44.4,47.9,50.05,52.8];
const cadenceRef=[29.06,35.5,40.55,44.4,47.85,50.05,52.8];
const stanceFsr=[77.45,72.6,70.5,68.75,68.2,67.8,67.25];
const stanceRef=[76.3,72.3,70.4,69.3,68.2,67.4,66.55];

/* ---------- Drawing ---------- */
const fig=document.getElementById('figure');
const ns=fig.namespaceURI;
function mk(parent,tag,attrs){
  const el=document.createElementNS(ns,tag);
  for(const k in attrs){el.setAttribute(k,attrs[k]);}
  parent.appendChild(el);
  return el;
}
function linear(d0,d1,r0,r1){return v=>r0+(v-d0)/(d1-d0)*(r1-r0);}
const TICK='#8a8a8a';

function dots(layer,groups,isRowKeyed,sx,sy,opacity){
  for(const g of groups){
    for(const v of g[1]){
      const cx=isRowKeyed?sx(v):sx(g[0]);
      const cy=isRowKeyed?sy(g[0]):sy(v);
      const c=mk(layer,'circle',{cx:cx,cy:cy,r:10.5,fill:'#0072BD','fill-opacity':opacity});
      
      
    }
  }
}
function layers(g,t,isRow,sx,sy){
  dots(g,t.light,isRow,sx,sy,0.1);
  dots(g,t.midExtra,isRow,sx,sy,0.2);
  dots(g,t.mid,isRow,sx,sy,0.3);
  dots(g,t.dark,isRow,sx,sy,0.62);
  dots(g,t.core,isRow,sx,sy,0.8);
}
function axes(g,box,sx,sy,xv,xl,yv,yl,labelRight){
  for(let i=0;i<xv.length;i++){
    const t=mk(g,'line',{x1:sx(xv[i]),x2:sx(xv[i]),y1:box.b,y2:box.b-27,stroke:TICK,'stroke-width':2});
    
    
    const l=mk(g,'text',{x:sx(xv[i]),y:box.b+61,'text-anchor':'middle'});
    l.textContent=xl[i];
    
    
  }
  for(let i=0;i<yv.length;i++){
    const t=mk(g,'line',{x1:box.l,x2:box.l+27,y1:sy(yv[i]),y2:sy(yv[i]),stroke:TICK,'stroke-width':2});
    
    
    const l=mk(g,'text',{x:labelRight,y:sy(yv[i])+19,'text-anchor':'end'});
    l.textContent=yl[i];
    
    
  }
  const ax=mk(g,'path',{d:`M${box.l} ${box.t}V${box.b}H${box.r}`,fill:'none',stroke:'#000','stroke-width':2.6});
  
  
}
function scatterPanel(id,box,fit,tiers){
  const g=document.getElementById(id);
  const sx=linear(0.75,2.5,box.l,box.r);
  const sy=linear(0.75,2.5,box.b,box.t);
  const idLine=mk(g,'line',{x1:sx(identityEnds[0]),y1:sy(identityEnds[0]),x2:sx(identityEnds[1]),y2:sy(identityEnds[1]),stroke:'#B3B3B3','stroke-width':7});
  
  
  const fy=v=>sy(fit[0]*v+fit[1]);
  const fl=mk(g,'line',{x1:sx(identityEnds[0]),y1:fy(identityEnds[0]),x2:sx(identityEnds[1]),y2:fy(identityEnds[1]),stroke:'#000','stroke-width':2.4});
  
  
  layers(g,tiers,false,sx,sy);
  axes(g,box,sx,sy,scatterTicks,scatterTickLabels,scatterTicks,scatterTickLabels,box.l-22);
}
function diffPanel(id,box,limits,tiers){
  const g=document.getElementById(id);
  const sx=linear(0.75,2.5,box.l,box.r);
  const sy=linear(-0.875,0.875,box.b,box.t);
  for(const lim of limits){
    const ll=mk(g,'line',{x1:box.l,x2:box.r,y1:sy(lim),y2:sy(lim),stroke:'#B3B3B3','stroke-width':7});
    
    
  }
  const zero=mk(g,'line',{x1:box.l,x2:box.r,y1:sy(0),y2:sy(0),stroke:'#000','stroke-width':2.4});
  
  
  layers(g,tiers,true,sx,sy);
  axes(g,box,sx,sy,scatterTicks,scatterTickLabels,diffTicks,diffTickLabels,box.l-21);
}
scatterPanel('panelA',{l:437.3,r:1359,t:85.2,b:1006.3},fitTop,{light:aLight,midExtra:aMidExtra,mid:aMid,dark:aDark,core:aCore});
diffPanel('panelB',{l:1543.6,r:2465.7,t:85.2,b:1006.3},limitsTop,{light:bLight,midExtra:bMidExtra,mid:bMid,dark:bDark,core:bCore});
scatterPanel('panelC',{l:444.5,r:1366.5,t:1246.6,b:2167.6},fitBottom,{light:cLight,midExtra:cMidExtra,mid:cMid,dark:cDark,core:cCore});
diffPanel('panelD',{l:1550.5,r:2472.5,t:1246.6,b:2167.6},limitsBottom,{light:dLight,midExtra:dMidExtra,mid:dMid,dark:dDark,core:dCore});

/* line chart */
(function(){
  const g=document.getElementById('panelE');
  const box={l:229.6,r:1704,t:2582.5,b:3688.7};
  const sx=linear(1,4,box.l,box.r);
  const syL=linear(1.1,2.1,box.b,box.t);
  const syR=linear(20,80,box.b,box.t);
  for(let i=0;i<speeds.length;i++){
    const gl=mk(g,'line',{x1:sx(speeds[i]),x2:sx(speeds[i]),y1:box.t,y2:box.b,stroke:'#B8B8B8','stroke-width':2.4});
    
    
    const l=mk(g,'text',{x:sx(speeds[i]),y:3750,'text-anchor':'middle'});
    l.textContent=speedTickLabels[i];
    
    
  }
  for(let i=0;i<strideTicks.length;i++){
    const gl=mk(g,'line',{x1:box.l,x2:box.r,y1:syL(strideTicks[i]),y2:syL(strideTicks[i]),stroke:'#B8B8B8','stroke-width':2.8});
    
    
    const l=mk(g,'text',{x:208,y:syL(strideTicks[i])+19,'text-anchor':'end'});
    l.textContent=strideTickLabels[i];
    
    
  }
  for(let i=0;i<rightTicks.length;i++){
    const t=mk(g,'line',{x1:box.r-26,x2:box.r,y1:syR(rightTicks[i]),y2:syR(rightTicks[i]),stroke:TICK,'stroke-width':2});
    
    
    const l=mk(g,'text',{x:1726,y:syR(rightTicks[i])+21,'text-anchor':'start'});
    l.textContent=rightTickLabels[i];
    
    
  }
  function series(vals,sy,color,dashed,name){
    const pts=vals.map((v,i)=>sx(speeds[i])+','+sy(v)).join(' ');
    const attrs={points:pts,fill:'none',stroke:color,'stroke-width':dashed?2.8:6.5,'stroke-linejoin':'round'};
    if(dashed){attrs['stroke-dasharray']='19 11';}
    const p=mk(g,'polyline',attrs);
    
    
    if(dashed){
      vals.forEach((v,i)=>{
        const x=sx(speeds[i]),y=sy(v);
        const d=mk(g,'polygon',{points:`${x},${y-15} ${x+11.5},${y} ${x},${y+15} ${x-11.5},${y}`,fill:color});
        
        
      });
    }
  }
  series(meanStrideRef,syL,'#0072BD',true,'mean-stride-time-ref');
  series(meanStrideFsr,syL,'#0072BD',false,'mean-stride-time-fsr');
  series(cadenceRef,syR,'#D95319',true,'cadence-ref');
  series(cadenceFsr,syR,'#D95319',false,'cadence-fsr');
  series(stanceFsr,syR,'#EDB120',false,'stance-phase-fsr');
  series(stanceRef,syR,'#EDB120',true,'stance-phase-ref');
  const frame=mk(g,'rect',{x:box.l,y:box.t,width:box.r-box.l,height:box.b-box.t,fill:'none',stroke:'#000','stroke-width':2.8});
  
  
})();
</script>
</body>
</html>
